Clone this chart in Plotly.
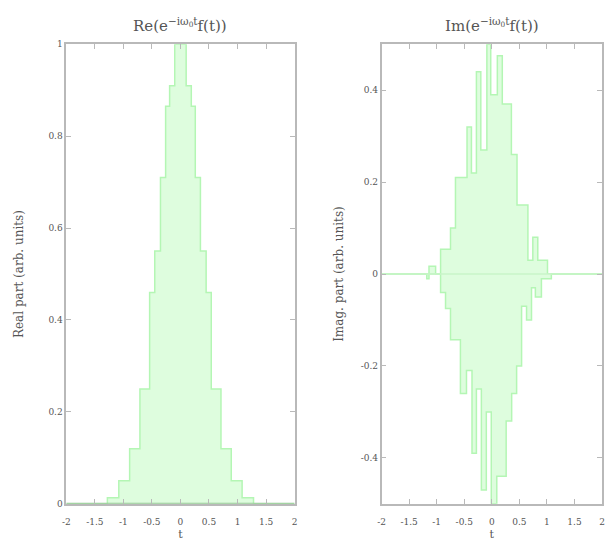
import plotly.graph_objects as go

# ---- data ----
# Left panel: real part, stepped envelope (edge positions and levels, hv steps)
re_t = [-2, -1.28, -1.08, -0.89, -0.71, -0.54, -0.45, -0.35, -0.26, -0.19, -0.10,
        0.10, 0.19, 0.26, 0.35, 0.45, 0.54, 0.71, 0.89, 1.08, 1.28, 2]
re_v = [0, 0.013, 0.05, 0.12, 0.25, 0.46, 0.55, 0.71, 0.865, 0.91, 1.0,
        0.91, 0.865, 0.71, 0.55, 0.46, 0.25, 0.12, 0.05, 0.013, 0, 0]

# Right panel: imaginary part, positive and negative envelopes
im_pos_t = [-2, -1.14, -1.02, -0.93, -0.75, -0.66, -0.45, -0.37, -0.28, -0.20, -0.09,
            -0.02, 0.10, 0.19, 0.355, 0.457, 0.655, 0.744, 0.834, 1.01, 2]
im_pos_v = [0, 0.017, 0.0, 0.054, 0.10, 0.21, 0.32, 0.22, 0.44, 0.27, 0.50,
            0.39, 0.475, 0.37, 0.26, 0.15, 0.03, 0.08, 0.03, 0, 0]
im_neg_t = [-2, -1.18, -1.14, -0.93, -0.84, -0.75, -0.57, -0.46, -0.36, -0.28, -0.19,
            -0.10, -0.01, 0.09, 0.26, 0.36, 0.45, 0.54, 0.63, 0.72, 0.79, 0.90, 1.08, 2]
im_neg_v = [0, -0.01, 0, -0.04, -0.075, -0.143, -0.26, -0.21, -0.39, -0.25, -0.47,
            -0.30, -0.50, -0.44, -0.32, -0.26, -0.20, -0.07, -0.10, -0.03, -0.05, -0.01, 0, 0]

x_ticks = [-2, -1.5, -1, -0.5, 0, 0.5, 1, 1.5, 2]
x_ticktext = ["-2", "-1.5", "-1", "-0.5", "0", "0.5", "1", "1.5", "2"]
re_ticks = [0, 0.2, 0.4, 0.6, 0.8, 1]
re_ticktext = ["0", "0.2", "0.4", "0.6", "0.8", "1"]
im_ticks = [-0.4, -0.2, 0, 0.2, 0.4]
im_ticktext = ["-0.4", "-0.2", "0", "0.2", "0.4"]

FILL = "rgb(222,253,222)"
EDGE = "rgb(180,246,180)"
ZERO = "rgb(150,200,150)"
TXT = "#555"
FONT = "DejaVu Serif"

fig = go.Figure()

fig.add_trace(go.Scatter(x=re_t, y=re_v, mode="lines", line_shape="hv",
                         fill="tozeroy", fillcolor=FILL,
                         line=dict(color=EDGE, width=1.5),
                         xaxis="x", yaxis="y", showlegend=False))
fig.add_trace(go.Scatter(x=[-2, 2], y=[0, 0], mode="lines",
                         line=dict(color=ZERO, width=2),
                         xaxis="x", yaxis="y", showlegend=False))

fig.add_trace(go.Scatter(x=im_pos_t, y=im_pos_v, mode="lines", line_shape="hv",
                         fill="tozeroy", fillcolor=FILL,
                         line=dict(color=EDGE, width=1.5),
                         xaxis="x2", yaxis="y2", showlegend=False))
fig.add_trace(go.Scatter(x=im_neg_t, y=im_neg_v, mode="lines", line_shape="hv",
                         fill="tozeroy", fillcolor=FILL,
                         line=dict(color=EDGE, width=1.5),
                         xaxis="x2", yaxis="y2", showlegend=False))
fig.add_trace(go.Scatter(x=[-2, 2], y=[0, 0], mode="lines",
                         line=dict(color="rgb(200,245,200)", width=1.5),
                         xaxis="x2", yaxis="y2", showlegend=False))

axis_common = dict(showline=True, linecolor="rgb(185,185,185)", linewidth=1.5,
                   mirror="allticks", ticks="inside", ticklen=5,
                   tickcolor="rgb(185,185,185)", showgrid=False, zeroline=False,
                   tickfont=dict(family=FONT, size=9, color=TXT))

y0, y1 = 1 - 508 / 553, 1 - 40 / 553

fig.update_layout(
    width=609, height=553,
    margin=dict(l=0, r=0, t=0, b=0),
    paper_bgcolor="white", plot_bgcolor="white",
    xaxis=dict(domain=[63 / 609, 294 / 609], range=[-2, 2], anchor="y",
               tickvals=x_ticks, ticktext=x_ticktext, ticklabelstandoff=9,
               title=dict(text="t", font=dict(family=FONT, size=11, color=TXT),
                          standoff=4),
               **axis_common),
    yaxis=dict(domain=[y0, y1], range=[0, 1], anchor="x",
               tickvals=re_ticks, ticktext=re_ticktext,
               title=dict(text="Real part (arb. units)",
                          font=dict(family=FONT, size=12, color=TXT),
                          standoff=22),
               **axis_common),
    xaxis2=dict(domain=[382 / 609, 605 / 609], range=[-2, 2], anchor="y2",
                tickvals=x_ticks, ticktext=x_ticktext, ticklabelstandoff=9,
                title=dict(text="t", font=dict(family=FONT, size=11, color=TXT),
                           standoff=4),
                **axis_common),
    yaxis2=dict(domain=[y0, y1], range=[-0.5, 0.5], anchor="x2",
                tickvals=im_ticks, ticktext=im_ticktext,
                title=dict(text="Imag. part (arb. units)",
                           font=dict(family=FONT, size=12, color=TXT),
                           standoff=14),
                **axis_common),
    annotations=[
        dict(text="Re(e<sup>−iω<sub>0</sub>t</sup>f(t))", x=(63 + 294) / 2 / 609, y=1 - 20 / 553,
             xref="paper", yref="paper", xanchor="center", yanchor="middle", showarrow=False,
             font=dict(family=FONT, size=15, color=TXT)),
        dict(text="Im(e<sup>−iω<sub>0</sub>t</sup>f(t))", x=(382 + 605) / 2 / 609, y=1 - 20 / 553,
             xref="paper", yref="paper", xanchor="center", yanchor="middle", showarrow=False,
             font=dict(family=FONT, size=15, color=TXT)),
    ],
)

fig.write_html("out.html")
